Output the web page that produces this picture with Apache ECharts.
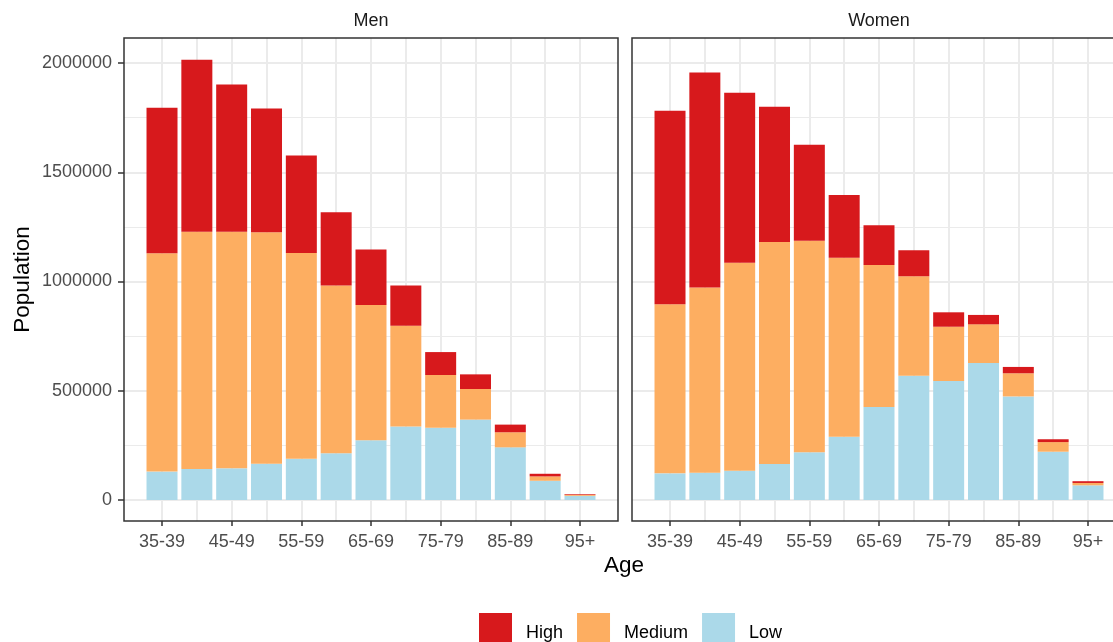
<!DOCTYPE html>
<html>
<head>
<meta charset="utf-8">
<script src="https://cdn.jsdelivr.net/npm/echarts@6/dist/echarts.min.js"></script>
<style>
html,body{margin:0;padding:0;background:#fff;}
#chart{width:1113px;height:642px;}
</style>
</head>
<body>
<div id="chart"></div>
<script>
const ages = ['35-39','40-44','45-49','50-54','55-59','60-64','65-69','70-74','75-79','80-84','85-89','90-94','95+'];
const facets = ['Men','Women'];
const levels = ['High','Medium','Low'];
const menLow    = [130000,142000,145000,166000,189000,214000,273000,336000,331000,368000,241000,88000,19000];
const menMedium = [999000,1086000,1083000,1059000,941000,768000,619000,462000,241000,140000,69000,20000,5000];
const menHigh   = [666000,787000,674000,567000,447000,335000,255000,184000,105000,67000,35000,12000,3000];
const womenLow    = [122000,125000,134000,165000,218000,290000,426000,569000,545000,627000,474000,221000,67000];
const womenMedium = [774000,847000,952000,1016000,969000,819000,650000,455000,248000,177000,106000,44000,11000];
const womenHigh   = [886000,985000,778000,619000,439000,287000,181000,119000,66000,43000,29000,13000,8000];
const yTicks = [0,500000,1000000,1500000,2000000];

const colors = {High:'#D7191C', Medium:'#FDAE61', Low:'#ABD9E9'};
const FONT = '"Liberation Sans", Arial, sans-serif';

// layout
const PANEL_TOP = 38, PANEL_H = 483, PANEL_W = 494;
const ZERO_Y = 500, TOP_TICK_Y = 63;
const PX_PER = (ZERO_Y - TOP_TICK_Y) / yTicks[yTicks.length-1];
const panelLefts = [124, 632];
const INNER_OFF = 20.6, INNER_W = 452.8;
const yMinD = -(PANEL_TOP + PANEL_H - ZERO_Y) / PX_PER;
const yMaxD = (ZERO_Y - PANEL_TOP) / PX_PER;

const grid = [], xAxis = [], yAxis = [], series = [];
const dataByFacet = [
  {Low: menLow, Medium: menMedium, High: menHigh},
  {Low: womenLow, Medium: womenMedium, High: womenHigh}
];

facets.forEach((f, fi) => {
  const L = panelLefts[fi];
  const base = fi * 3;
  // frame grid (border)
  grid.push({left: L, top: PANEL_TOP, width: PANEL_W, height: PANEL_H, show: true, outerBoundsMode: 'none', containLabel: false,
    backgroundColor: 'transparent', borderColor: '#333333', borderWidth: 1.5, z: 5});
  xAxis.push({gridIndex: base, type: 'value', show: false, min: 0, max: 1});
  yAxis.push({gridIndex: base, type: 'value', show: false, min: 0, max: 1});
  // scale grid (horizontal grid lines, y labels)
  grid.push({left: L, top: TOP_TICK_Y, width: PANEL_W, height: ZERO_Y - TOP_TICK_Y, show: false, outerBoundsMode: 'none', containLabel: false});
  xAxis.push({gridIndex: base+1, type: 'value', show: false, min: 0, max: 1});
  yAxis.push({gridIndex: base+1, type: 'value', min: yTicks[0], max: yTicks[yTicks.length-1],
    interval: yTicks[1]-yTicks[0],
    axisLine: {show: false},
    axisTick: {show: fi === 0, length: 6, lineStyle: {color: '#333333', width: 1.5}},
    axisLabel: {show: fi === 0, fontSize: 18, color: '#4D4D4D', fontFamily: FONT, margin: 12,
      formatter: v => String(v)},
    splitLine: {show: true, lineStyle: {color: '#EBEBEB', width: 2}},
    minorTick: {show: false, splitNumber: 2},
    minorSplitLine: {show: true, lineStyle: {color: '#EBEBEB', width: 1}}
  });
  // data grid
  grid.push({left: L + INNER_OFF, top: PANEL_TOP, width: INNER_W, height: PANEL_H, show: false, outerBoundsMode: 'none', containLabel: false});
  xAxis.push({gridIndex: base+2, type: 'category', data: ages, position: 'bottom',
    axisLine: {show: false, onZero: false},
    axisTick: {show: true, alignWithLabel: true, interval: 1, length: 5, inside: false, lineStyle: {color: '#333333', width: 1.5}},
    axisLabel: {interval: 1, fontSize: 18, color: '#4D4D4D', fontFamily: FONT, margin: 12},
    splitLine: {show: true, alignWithLabel: true, interval: 0, lineStyle: {color: '#EBEBEB', width: 2}}
  });
  yAxis.push({gridIndex: base+2, type: 'value', show: false, min: yMinD, max: yMaxD, splitLine: {show: false}});
  ['Low','Medium','High'].forEach(lv => {
    series.push({
      name: lv, type: 'bar', stack: f, xAxisIndex: base+2, yAxisIndex: base+2,
      data: dataByFacet[fi][lv], barCategoryGap: '11%',
      itemStyle: {color: colors[lv], borderWidth: 0},
      emphasis: {disabled: true}, animation: false
    });
  });
});

const chart = echarts.init(document.getElementById('chart'), null, {renderer: 'canvas'});
chart.setOption({
  animation: false,
  backgroundColor: '#ffffff',
  grid, xAxis, yAxis, series,
  legend: {
    data: levels, left: 479, top: 613, orient: 'horizontal', padding: 0,
    itemWidth: 33, itemHeight: 40, itemGap: 14, icon: 'rect',
    itemStyle: {borderWidth: 0},
    textStyle: {fontSize: 18, color: '#000000', fontFamily: FONT, padding: [0,0,0,9]},
    selectedMode: false
  },
  graphic: [
    {type: 'text', x: panelLefts[0] + PANEL_W/2, y: 21, style: {text: facets[0], font: '18px ' + FONT, fill: '#1A1A1A', textAlign: 'center', textVerticalAlign: 'middle'}},
    {type: 'text', x: panelLefts[1] + PANEL_W/2, y: 21, style: {text: facets[1], font: '18px ' + FONT, fill: '#1A1A1A', textAlign: 'center', textVerticalAlign: 'middle'}},
    {type: 'text', x: 23, y: PANEL_TOP + PANEL_H/2, rotation: Math.PI/2, style: {text: 'Population', font: '22.5px ' + FONT, fill: '#000000', textAlign: 'center', textVerticalAlign: 'middle'}},
    {type: 'text', x: 624, y: 566, style: {text: 'Age', font: '22.5px ' + FONT, fill: '#000000', textAlign: 'center', textVerticalAlign: 'middle'}}
  ]
});
</script>
</body>
</html>
